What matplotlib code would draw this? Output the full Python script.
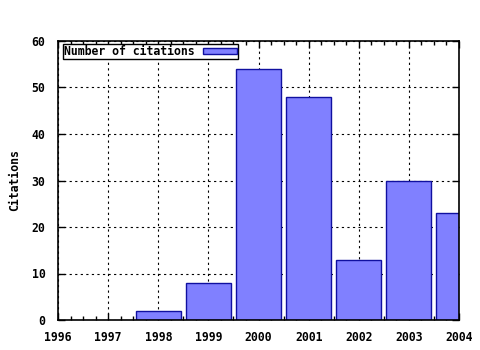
import matplotlib
matplotlib.use("Agg")
import matplotlib.pyplot as plt
from matplotlib.ticker import MultipleLocator

years = [1998, 1999, 2000, 2001, 2002, 2003, 2004]
citations = [2, 8, 54, 48, 13, 30, 23]

plt.rcParams['font.family'] = 'DejaVu Sans Mono'
plt.rcParams['font.weight'] = 'bold'
plt.rcParams['font.size'] = 8.3

fig = plt.figure(figsize=(4.8, 3.5), dpi=100)
ax = fig.add_axes([58 / 480, 30 / 350, 401 / 480, 279 / 350])

ax.bar(years, citations, width=0.9, color='#8080ff', edgecolor='#1010a0',
       linewidth=1.0, label='Number of citations', zorder=2)

ax.set_xlim(1996, 2004)
ax.set_ylim(0, 60)
ax.xaxis.set_major_locator(MultipleLocator(1))
ax.xaxis.set_minor_locator(MultipleLocator(0.25))
ax.yaxis.set_major_locator(MultipleLocator(10))
ax.tick_params(which='both', direction='in', top=True, right=True,
               width=1, labelsize=8.3, colors='black')
ax.tick_params(axis='x', pad=8)
ax.tick_params(axis='y', pad=9)
ax.tick_params(which='major', length=5)
ax.tick_params(which='minor', length=3)
ax.grid(True, which='major', linestyle=(0, (2, 3)), color='black', linewidth=0.8, zorder=1)
ax.set_axisbelow(True)
for s in ax.spines.values():
    s.set_linewidth(1.2)
    s.set_zorder(3)

ax.set_ylabel('Citations', fontweight='bold', labelpad=8)

leg = ax.legend(loc='upper left', bbox_to_anchor=(63 / 480, 306 / 350),
                bbox_transform=fig.transFigure, markerfirst=False, frameon=True,
                fancybox=False, borderpad=0.1, borderaxespad=0,
                handlelength=2.9, handleheight=0.5, handletextpad=0.75,
                prop={'weight': 'bold', 'size': 8.3})
leg.get_frame().set_edgecolor('black')
leg.get_frame().set_linewidth(1.0)
leg.get_frame().set_alpha(1)

fig.savefig('out.png', dpi=100)
